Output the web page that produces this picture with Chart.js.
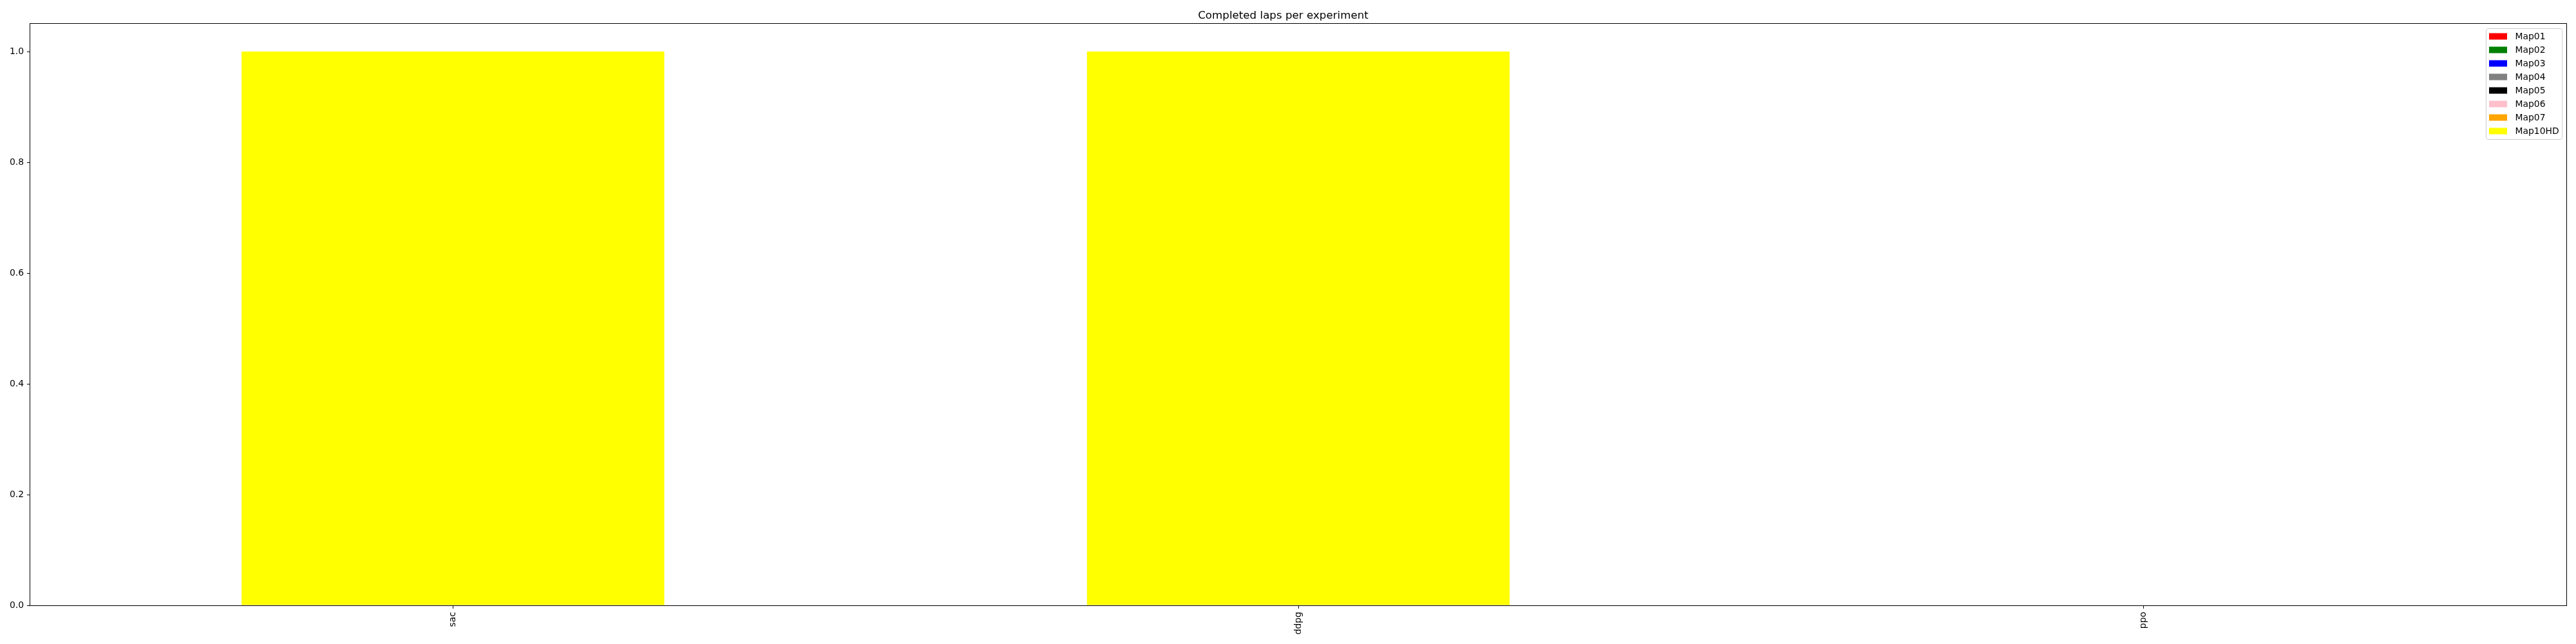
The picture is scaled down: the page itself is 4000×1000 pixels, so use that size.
<!DOCTYPE html>
<html>
<head>
<meta charset="utf-8">
<script src="https://cdn.jsdelivr.net/npm/chart.js@4"></script>
<style>
  body { margin: 0; background: #fff; }
  #wrap { width: 4000px; height: 1000px; }
</style>
</head>
<body>
<div id="wrap"><canvas id="lapsChart" width="4000" height="1000"></canvas></div>
<script>
const algorithms = ["sac", "ddpg", "ppo"];
const mapNames = ["Map01", "Map02", "Map03", "Map04", "Map05", "Map06", "Map07", "Map10HD"];
const mapColors = ["red", "green", "blue", "gray", "black", "pink", "orange", "yellow"];

// completed laps, one value per algorithm (sac, ddpg, ppo)
const lapsMap01 = [0, 0, 0];
const lapsMap02 = [0, 0, 0];
const lapsMap03 = [0, 0, 0];
const lapsMap04 = [0, 0, 0];
const lapsMap05 = [0, 0, 0];
const lapsMap06 = [0, 0, 0];
const lapsMap07 = [0, 0, 0];
const lapsMap10HD = [1, 1, 0];

const yTicks = [0, 0.2, 0.4, 0.6, 0.8, 1.0];

const allLaps = [lapsMap01, lapsMap02, lapsMap03, lapsMap04, lapsMap05, lapsMap06, lapsMap07, lapsMap10HD];
const FONT = '"DejaVu Sans", sans-serif';

// matplotlib-like box around the axes and legend in the upper right corner
const frameAndLegend = {
    id: "frameAndLegend",
    afterDatasetsDraw(chart) {
        const ctx = chart.ctx, a = chart.chartArea;
        ctx.save();
        ctx.strokeStyle = "#000";
        ctx.lineWidth = 1;
        ctx.strokeRect(Math.round(a.left) - 0.5, Math.round(a.top) - 0.5,
            Math.round(a.right - a.left) + 1, Math.round(a.bottom - a.top) + 1);
        ctx.restore();
    },
    afterDraw(chart) {
        const ctx = chart.ctx, a = chart.chartArea;
        const items = chart.data.datasets;
        const fs = 13.9, rowH = 21, patchW = 28, patchH = 10;
        ctx.save();
        ctx.font = fs + "px " + FONT;
        const textW = Math.max(...items.map(d => ctx.measureText(d.label).width));
        const boxW = 45 + textW + 5;
        const boxH = 12 + rowH * (items.length - 1) + 13;
        const x0 = Math.round(a.right - 6.5 - boxW) + 0.5;
        const y0 = Math.round(a.top + 7) + 0.5;
        ctx.beginPath();
        ctx.roundRect(x0, y0, Math.round(boxW), boxH, 3);
        ctx.fillStyle = "rgba(255,255,255,0.8)";
        ctx.fill();
        ctx.strokeStyle = "#cccccc";
        ctx.lineWidth = 1;
        ctx.stroke();
        ctx.textBaseline = "middle";
        items.forEach((d, i) => {
            const cy = y0 + 12 + i * rowH;
            ctx.fillStyle = d.backgroundColor;
            ctx.fillRect(x0 + 4.5, cy - patchH / 2, patchW, patchH);
            ctx.fillStyle = "#000";
            ctx.fillText(d.label, x0 + 45, cy + 1);
        });
        ctx.restore();
    }
};

new Chart(document.getElementById("lapsChart"), {
    type: "bar",
    data: {
        labels: algorithms,
        datasets: mapNames.map((name, i) => ({
            label: name,
            data: allLaps[i],
            backgroundColor: mapColors[i],
            borderWidth: 0,
            barPercentage: 0.5,
            categoryPercentage: 1.0
        }))
    },
    options: {
        responsive: false,
        animation: false,
        devicePixelRatio: 1,
        layout: { padding: { left: 0, right: 15, top: 0, bottom: 0 } },
        plugins: {
            legend: { display: false },
            tooltip: { enabled: false },
            title: {
                display: true,
                text: "Completed laps per experiment",
                color: "#000",
                font: { family: FONT, size: 16.7, weight: "normal" },
                padding: { top: 14.5, bottom: 2.5 }
            }
        },
        scales: {
            x: {
                stacked: true,
                offset: true,
                border: { display: false },
                grid: { offset: false, drawOnChartArea: false, drawTicks: true, tickLength: 5, color: "#000", lineWidth: 1 },
                ticks: {
                    autoSkip: false, minRotation: 90, maxRotation: 90, padding: 5,
                    color: "#000", font: { family: FONT, size: 13.9 }
                },
                afterFit(scale) { scale.height = 60; }
            },
            y: {
                stacked: true,
                min: 0,
                max: 1.05,
                border: { display: false },
                grid: { drawOnChartArea: false, drawTicks: true, tickLength: 5, color: "#000", lineWidth: 1 },
                ticks: {
                    padding: 5, color: "#000", font: { family: FONT, size: 13.9 },
                    callback: v => v.toFixed(1)
                },
                afterBuildTicks(scale) { scale.ticks = yTicks.map(v => ({ value: v })); },
                afterFit(scale) { scale.width = 47; }
            }
        }
    },
    plugins: [frameAndLegend]
});
</script>
</body>
</html>
